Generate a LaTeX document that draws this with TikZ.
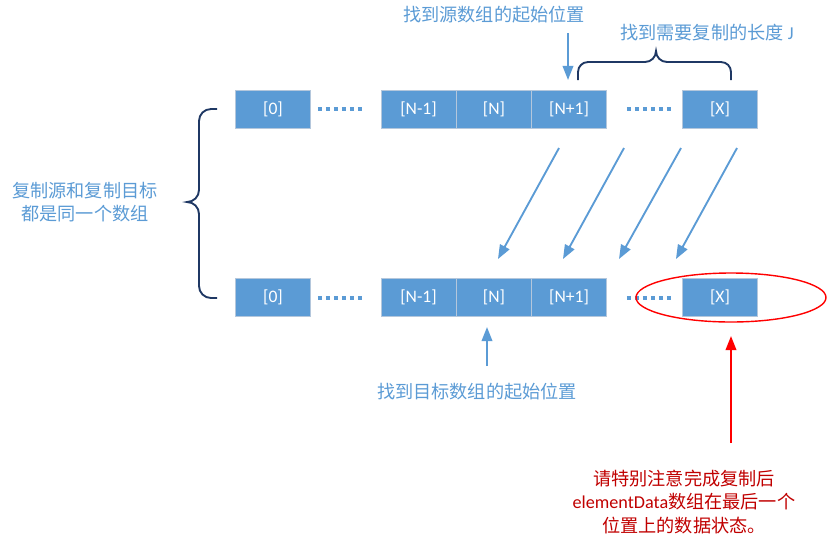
\documentclass[tikz,border=0pt]{standalone}
\usepackage{fontspec}
\setmainfont{Carlito}
\newfontfamily\cjk{Noto Sans CJK SC}
\usepackage{tikz}
\usetikzlibrary{arrows.meta}

\definecolor{cellblue}{HTML}{5B9BD5}
\definecolor{cellline}{HTML}{B4C7DC}
\definecolor{bracenavy}{HTML}{1F3864}
\definecolor{notered}{HTML}{C00000}

\tikzset{
  cell/.style={draw=cellline, line width=0.8pt, fill=cellblue, text=white,
    minimum width=2.25cm, minimum height=1.14cm, inner sep=0pt,
    font=\fontsize{15}{18}\selectfont},
  dotrun/.style={cellblue, line width=3.4pt, dash pattern=on 3.4pt off 3.4pt},
  bluelbl/.style={text=cellblue, font=\fontsize{15.5}{20}\cjk},
  copyarrow/.style={cellblue, line width=1.6pt, -{Triangle[length=12pt,width=9pt]}},
  bracket/.style={bracenavy, line width=1.6pt}
}

\begin{document}
\begin{tikzpicture}[x=0.03cm, y=-0.03cm]
        \useasboundingbox (0,0) rectangle (832,546);

        % source row
        \draw (273,109) node[cell] (t0) {[0]};
        \draw (418.5,109) node[cell] (tNm) {[N-1]};
        \draw (494,109) node[cell] (tN) {[N]};
        \draw (569,109) node[cell] (tNp) {[N+1]};
        \draw (720,109) node[cell] (tX) {[X]};

        % target row
        \draw (273,297.5) node[cell] (b0) {[0]};
        \draw (418.5,297.5) node[cell] (bNm) {[N-1]};
        \draw (494,297.5) node[cell] (bN) {[N]};
        \draw (569,297.5) node[cell] (bNp) {[N+1]};
        \draw (720,297.5) node[cell] (bX) {[X]};

        % dots between cells
        \draw[dotrun, shorten <=0.21cm, shorten >=0.57cm] (t0.east) -- (tNm.west);
        \draw[dotrun, shorten <=0.6cm, shorten >=0.3cm] (tNp.east) -- (tX.west);
        \draw[dotrun, shorten <=0.21cm, shorten >=0.57cm] (b0.east) -- (bNm.west);
        \draw[dotrun, shorten <=0.6cm, shorten >=0.3cm] (bNp.east) -- (bX.west);

        % labels
        \draw (494,15) node[bluelbl] (srclbl) {找到源数组的起始位置};
        \draw (707,33) node[bluelbl] (lenlbl) {找到需要复制的长度 {\fontspec{Carlito}J}};
        \draw (85,202) node[bluelbl, align=center] (samelbl) {复制源和复制目标\\都是同一个数组};
        \draw (477,392) node[bluelbl] (dstlbl) {找到目标数组的起始位置};

        % start arrows
        \coordinate (srcfrom) at (568,33);
        \coordinate (srcto) at (568,80);
        \coordinate (dstfrom) at (487,366);
        \coordinate (dstto) at (487,327);
        \draw[copyarrow] (srcfrom) -- (srcto);
        \draw[copyarrow] (dstfrom) -- (dstto);

        % copy arrows
        \coordinate (c1a) at (559,148); \coordinate (c1b) at (498,259);
        \coordinate (c2a) at (624,148); \coordinate (c2b) at (563,259);
        \coordinate (c3a) at (681,148); \coordinate (c3b) at (619,259);
        \coordinate (c4a) at (737,148); \coordinate (c4b) at (676,259);
        \draw[copyarrow] (c1a) -- (c1b);
        \draw[copyarrow] (c2a) -- (c2b);
        \draw[copyarrow] (c3a) -- (c3b);
        \draw[copyarrow] (c4a) -- (c4b);

        % braces
        \draw[bracket] (578,80) -- (578,72) to[out=90,in=180] (588,62) -- (645,62)
          to[out=0,in=-90] (656,51) to[out=-90,in=180] (667,62) -- (721,62)
          to[out=0,in=90] (731,72) -- (731,80);
        \draw[bracket] (217,109) -- (211,109) to[out=180,in=90] (199,121) -- (199,190)
          to[out=-90,in=0] (187,202) to[out=0,in=90] (199,214) -- (199,286)
          to[out=-90,in=180] (211,298) -- (217,298);

        % last position note
        \draw[red, line width=1.2pt] (731,297.5) ellipse [x radius=95, y radius=24.5];
        \coordinate (notefrom) at (731,443);
        \coordinate (noteto) at (731,336);
        \draw[red, line width=1.6pt, -{Triangle[length=12pt,width=9pt]}] (notefrom) -- (noteto);
        \draw (684,502) node[text=notered, align=center, font=\fontsize{15.5}{20}\selectfont] (notelbl)
          {{\cjk 请特别注意完成复制后}\\elementData{\cjk 数组在最后一个}\\{\cjk 位置上的数据状态。}};
    \end{tikzpicture}
\end{document}
